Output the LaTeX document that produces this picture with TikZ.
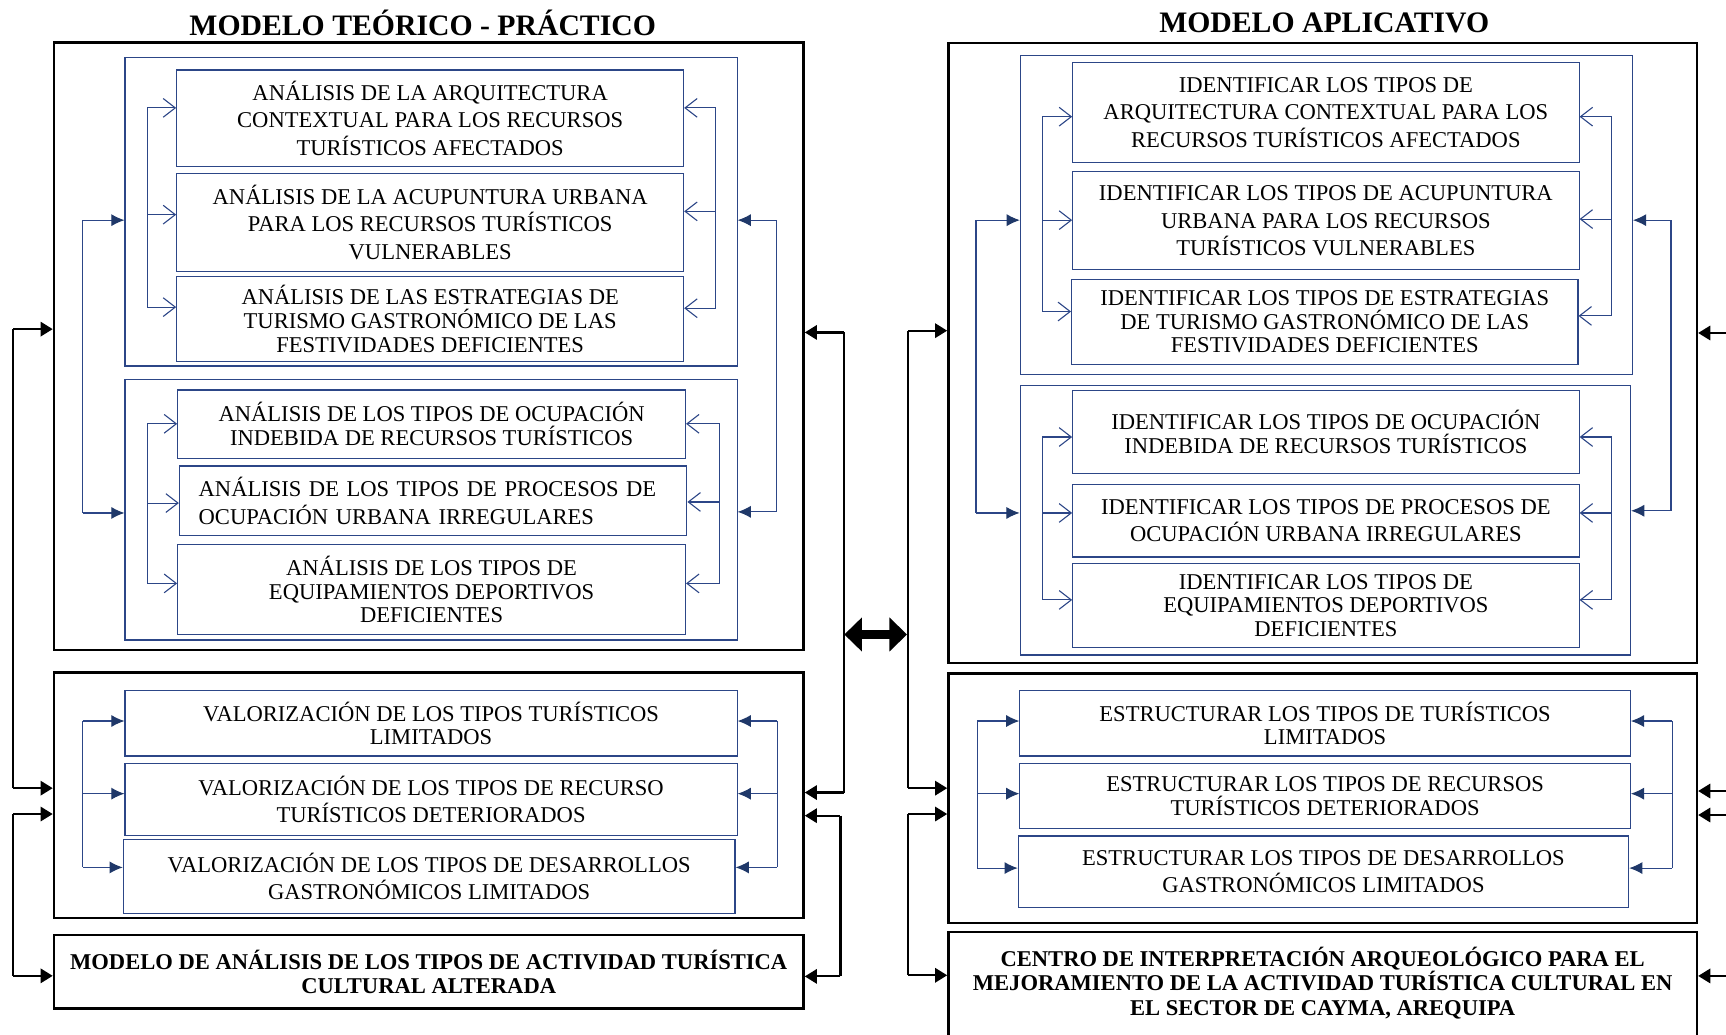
\documentclass[tikz,border=0pt]{standalone}
\usepackage{fontspec}
\setmainfont{Liberation Serif}
\usetikzlibrary{arrows.meta}
\definecolor{navy}{RGB}{44,70,135}
\definecolor{navyf}{RGB}{31,56,105}
\newcommand{\ftxt}{\fontsize{20.5}{25}\selectfont}
\newcommand{\ftxtt}{\fontsize{20.5}{21.5}\selectfont}
\newcommand{\fbold}{\bfseries\fontsize{20.5}{22}\selectfont}
\newcommand{\ftitle}{\bfseries\fontsize{27}{30}\selectfont}
\tikzset{
  bbox/.style={draw=black, line width=2.2pt, inner sep=0pt, align=center, font=\fbold},
  ubox/.style={draw=navy, line width=1pt, inner sep=2pt, align=center, font=\ftxt},
  tight/.style={font=\ftxtt},
  uline/.style={draw=navy, line width=1pt},
  openarr/.style={uline, -{Straight Barb[length=11pt,width=17pt]}},
  fillarr/.style={uline, -{Latex[length=12pt,width=11pt,fill=navyf,color=navyf]}},
  kline/.style={draw=black, line width=2pt},
  karr/.style={kline, -{Triangle[length=11pt,width=13pt]}},
  dblarr/.style={draw=black, line width=9pt, {Triangle[length=16pt,width=30pt]}-{Triangle[length=16pt,width=30pt]}},
  ttl/.style={font=\ftitle, inner sep=0pt}
}
\begin{document}
\begin{tikzpicture}[x=1pt,y=-1pt]
\useasboundingbox (0,0) rectangle (1568,940);
\clip (0,0) rectangle (1568,940);

% ---------------- titles
\node[ttl] (T1) at (384,21) {MODELO TEÓRICO - PRÁCTICO};
\node[ttl] (T2) at (1203,21) {MODELO APLICATIVO};

% ---------------- left panel
\node[bbox, minimum width=681pt, minimum height=552pt] (P1) at (389.5,314.6) {};
\node[ubox, minimum width=556pt, minimum height=280pt] (G1) at (391.6,192.5) {};
\node[ubox, minimum width=460.5pt, minimum height=87.8pt] (A1) at (390.8,107.5)
  {ANÁLISIS DE LA ARQUITECTURA\\CONTEXTUAL PARA LOS RECURSOS\\TURÍSTICOS AFECTADOS};
\node[ubox, minimum width=460.5pt, minimum height=89.4pt] (A2) at (390.8,202.1)
  {ANÁLISIS DE LA ACUPUNTURA URBANA\\PARA LOS RECURSOS TURÍSTICOS\\VULNERABLES};
\node[ubox, tight, minimum width=460.5pt, minimum height=76.7pt] (A3) at (390.8,289.7)
  {ANÁLISIS DE LAS ESTRATEGIAS DE\\TURISMO GASTRONÓMICO DE LAS\\FESTIVIDADES DEFICIENTES};
\node[ubox, minimum width=556pt, minimum height=236.8pt] (G2) at (391.6,463) {};
\node[ubox, tight, minimum width=461.3pt, minimum height=62.1pt] (B1) at (392.1,385.3)
  {ANÁLISIS DE LOS TIPOS DE OCUPACIÓN\\INDEBIDA DE RECURSOS TURÍSTICOS};
\node[ubox, align=left, text width=426pt, inner xsep=17pt, minimum width=461pt, minimum height=63.3pt] (B2) at (393.5,455)
  {ANÁLISIS DE LOS TIPOS DE PROCESOS DE\\OCUPACIÓN URBANA IRREGULARES};
\node[ubox, tight, minimum width=461.3pt, minimum height=81.2pt] (B3) at (392.1,535.6)
  {ANÁLISIS DE LOS TIPOS DE\\EQUIPAMIENTOS DEPORTIVOS\\DEFICIENTES};

\node[bbox, minimum width=681pt, minimum height=223.2pt] (P2) at (389.5,722.6) {};
\node[ubox, tight, minimum width=556pt, minimum height=59.4pt] (C1) at (391.6,657.1)
  {VALORIZACIÓN DE LOS TIPOS TURÍSTICOS\\LIMITADOS};
\node[ubox, minimum width=556pt, minimum height=65.8pt] (C2) at (391.6,726.3)
  {VALORIZACIÓN DE LOS TIPOS DE RECURSO\\TURÍSTICOS DETERIORADOS};
\node[ubox, minimum width=555.7pt, minimum height=67.5pt] (C3) at (389.9,796)
  {VALORIZACIÓN DE LOS TIPOS DE DESARROLLOS\\GASTRONÓMICOS LIMITADOS};
\node[bbox, minimum width=681pt, minimum height=66.6pt] (D) at (389.5,882.7)
  {MODELO DE ANÁLISIS DE LOS TIPOS DE ACTIVIDAD TURÍSTICA\\CULTURAL ALTERADA};

% ---------------- right panel
\node[bbox, minimum width=680pt, minimum height=563.7pt] (Q1) at (1201.6,320.7) {};
\node[ubox, minimum width=556pt, minimum height=290pt] (H1) at (1205,195.5) {};
\node[ubox, minimum width=460pt, minimum height=91.2pt] (E1) at (1204.5,102.2)
  {IDENTIFICAR LOS TIPOS DE\\ARQUITECTURA CONTEXTUAL PARA LOS\\RECURSOS TURÍSTICOS AFECTADOS};
\node[ubox, minimum width=460pt, minimum height=89pt] (E2) at (1204.5,200.5)
  {IDENTIFICAR LOS TIPOS DE ACUPUNTURA\\URBANA PARA LOS RECURSOS\\TURÍSTICOS VULNERABLES};
\node[ubox, tight, minimum width=460pt, minimum height=77.2pt] (E3) at (1203.5,292.4)
  {IDENTIFICAR LOS TIPOS DE ESTRATEGIAS\\DE TURISMO GASTRONÓMICO DE LAS\\FESTIVIDADES DEFICIENTES};
\node[ubox, minimum width=554.5pt, minimum height=245pt] (H2) at (1204,472.5) {};
\node[ubox, tight, minimum width=460pt, minimum height=75.5pt] (F1) at (1204.5,392.5)
  {IDENTIFICAR LOS TIPOS DE OCUPACIÓN\\INDEBIDA DE RECURSOS TURÍSTICOS};
\node[ubox, minimum width=460pt, minimum height=66pt] (F2) at (1204.5,473)
  {IDENTIFICAR LOS TIPOS DE PROCESOS DE\\OCUPACIÓN URBANA IRREGULARES};
\node[ubox, tight, minimum width=460pt, minimum height=76pt] (F3) at (1204.5,550)
  {IDENTIFICAR LOS TIPOS DE\\EQUIPAMIENTOS DEPORTIVOS\\DEFICIENTES};

\node[bbox, minimum width=680pt, minimum height=227pt] (Q2) at (1201.6,725.2) {};
\node[ubox, tight, minimum width=554.5pt, minimum height=59.4pt] (R1) at (1203.8,657.1)
  {ESTRUCTURAR LOS TIPOS DE TURÍSTICOS\\LIMITADOS};
\node[ubox, tight, minimum width=554.5pt, minimum height=59.4pt] (R2) at (1203.8,723.1)
  {ESTRUCTURAR LOS TIPOS DE RECURSOS\\TURÍSTICOS DETERIORADOS};
\node[ubox, minimum width=554.5pt, minimum height=65.1pt] (R3) at (1202.3,792)
  {ESTRUCTURAR LOS TIPOS DE DESARROLLOS\\GASTRONÓMICOS LIMITADOS};
\node[bbox, anchor=north, minimum width=680pt, minimum height=140pt] (H) at (1201.6,845.5) {};
\node[font=\fbold, align=center, inner sep=0pt] (Ht) at (1201.6,893)
  {CENTRO DE INTERPRETACIÓN ARQUEOLÓGICO PARA EL\\MEJORAMIENTO DE LA ACTIVIDAD TURÍSTICA CULTURAL EN\\EL SECTOR DE CAYMA, AREQUIPA};

% ---------------- blue open-arrow brackets (left panel)
\foreach \n/\y in {A1/98, A2/195, A3/279}{
  \coordinate (La\n) at (133.7,\y);
  \draw[openarr] (La\n) -- (\n.west |- La\n);}
\draw[uline] (LaA1) -- (LaA3);
\foreach \n/\y in {A1/98, A2/192, A3/280}{
  \coordinate (Ra\n) at (650,\y);
  \draw[openarr] (Ra\n) -- (\n.east |- Ra\n);}
\draw[uline] (RaA1) -- (RaA3);
\foreach \n/\y in {B1/385, B2/457, B3/530}{
  \coordinate (Lb\n) at (133.7,\y);
  \draw[openarr] (Lb\n) -- (\n.west |- Lb\n);}
\draw[uline] (LbB1) -- (LbB3);
\foreach \n/\y in {B1/385, B2/456, B3/530}{
  \coordinate (Rb\n) at (654,\y);
  \draw[openarr] (Rb\n) -- (\n.east |- Rb\n);}
\draw[uline] (RbB1) -- (RbB3);

% filled blue brackets (left panel)
\foreach \n/\y in {G1/200, G2/466}{
  \coordinate (Lg\n) at (75,\y);
  \draw[fillarr] (Lg\n) -- (\n.west |- Lg\n);}
\draw[uline] (LgG1) -- (LgG2);
\foreach \n/\y in {G1/200, G2/465}{
  \coordinate (Rg\n) at (705.6,\y);
  \draw[fillarr] (Rg\n) -- (\n.east |- Rg\n);}
\draw[uline] (RgG1) -- (RgG2);
\foreach \n/\y in {C1/655, C2/721, C3/788}{
  \coordinate (Lc\n) at (75,\y);
  \draw[fillarr] (Lc\n) -- (\n.west |- Lc\n);
  \coordinate (Rc\n) at (706,\y);
  \draw[fillarr] (Rc\n) -- (\n.east |- Rc\n);}
\draw[uline] (LcC1) -- (LcC3);
\draw[uline] (RcC1) -- (RcC3);

% ---------------- blue brackets (right panel)
\foreach \n/\y in {E1/106, E2/200, E3/283}{
  \coordinate (Le\n) at (947,\y);
  \draw[openarr] (Le\n) -- (\n.west |- Le\n);}
\draw[uline] (LeE1) -- (LeE3);
\foreach \n/\y in {E1/106, E2/199, E3/287}{
  \coordinate (Re\n) at (1464,\y);
  \draw[openarr] (Re\n) -- (\n.east |- Re\n);}
\draw[uline] (ReE1) -- (ReE3);
\foreach \n/\y in {F1/397, F2/466, F3/545}{
  \coordinate (Lf\n) at (947,\y);
  \draw[openarr] (Lf\n) -- (\n.west |- Lf\n);
  \coordinate (Rf\n) at (1464,\y);
  \draw[openarr] (Rf\n) -- (\n.east |- Rf\n);}
\draw[uline] (LfF1) -- (LfF3);
\draw[uline] (RfF1) -- (RfF3);
\foreach \n/\y in {H1/200, H2/466}{
  \coordinate (Lh\n) at (886.6,\y);
  \draw[fillarr] (Lh\n) -- (\n.west |- Lh\n);}
\draw[uline] (LhH1) -- (LhH2);
\foreach \n/\y in {H1/200, H2/464}{
  \coordinate (Rh\n) at (1518,\y);
  \draw[fillarr] (Rh\n) -- (\n.east |- Rh\n);}
\draw[uline] (RhH1) -- (RhH2);
\foreach \n/\y in {R1/655, R2/721, R3/788.6}{
  \coordinate (Lr\n) at (887.6,\y);
  \draw[fillarr] (Lr\n) -- (\n.west |- Lr\n);
  \coordinate (Rr\n) at (1519,\y);
  \draw[fillarr] (Rr\n) -- (\n.east |- Rr\n);}
\draw[uline] (LrR1) -- (LrR3);
\draw[uline] (RrR1) -- (RrR3);

% ---------------- black connectors (left panel)
\coordinate (k1a) at (12,299);   \coordinate (k1b) at (12,716);
\coordinate (k2a) at (12,739.5); \coordinate (k2b) at (12,886.5);
\draw[kline] (k1a) -- (k1b);
\draw[karr] (k1a) -- (P1.west |- k1a);
\draw[karr] (k1b) -- (P2.west |- k1b);
\draw[kline] (k2a) -- (k2b);
\draw[karr] (k2a) -- (P2.west |- k2a);
\draw[karr] (k2b) -- (D.west |- k2b);
\coordinate (k3a) at (766.5,302);   \coordinate (k3b) at (766.5,720);
\coordinate (k4a) at (763.5,741);   \coordinate (k4b) at (763.5,887);
\draw[kline] (k3a) -- (k3b);
\draw[karr] (k3a) -- (P1.east |- k3a);
\draw[karr] (k3b) -- (P2.east |- k3b);
\draw[kline] (k4a) -- (k4b);
\draw[karr] (k4a) -- (P2.east |- k4a);
\draw[karr] (k4b) -- (D.east |- k4b);

% ---------------- black connectors (right panel)
\coordinate (k5a) at (825,300.4); \coordinate (k5b) at (825,716);
\coordinate (k6a) at (825,739.5); \coordinate (k6b) at (825,886);
\draw[kline] (k5a) -- (k5b);
\draw[karr] (k5a) -- (Q1.west |- k5a);
\draw[karr] (k5b) -- (Q2.west |- k5b);
\draw[kline] (k6a) -- (k6b);
\draw[karr] (k6a) -- (Q2.west |- k6a);
\draw[karr] (k6b) -- (H.west |- k6b);
\coordinate (e1) at (1600,302.5);
\coordinate (e2) at (1600,718.6);
\coordinate (e3) at (1600,740.4);
\coordinate (e4) at (1600,886.6);
\draw[karr] (e1) -- (Q1.east |- e1);
\draw[karr] (e2) -- (Q2.east |- e2);
\draw[karr] (e3) -- (Q2.east |- e3);
\draw[karr] (e4) -- (H.east |- e4);

% ---------------- double arrow between models
\coordinate (dl) at (767,576.4);
\coordinate (dr) at (824,576.4);
\draw[dblarr] (dl) -- (dr);
\end{tikzpicture}
\end{document}
